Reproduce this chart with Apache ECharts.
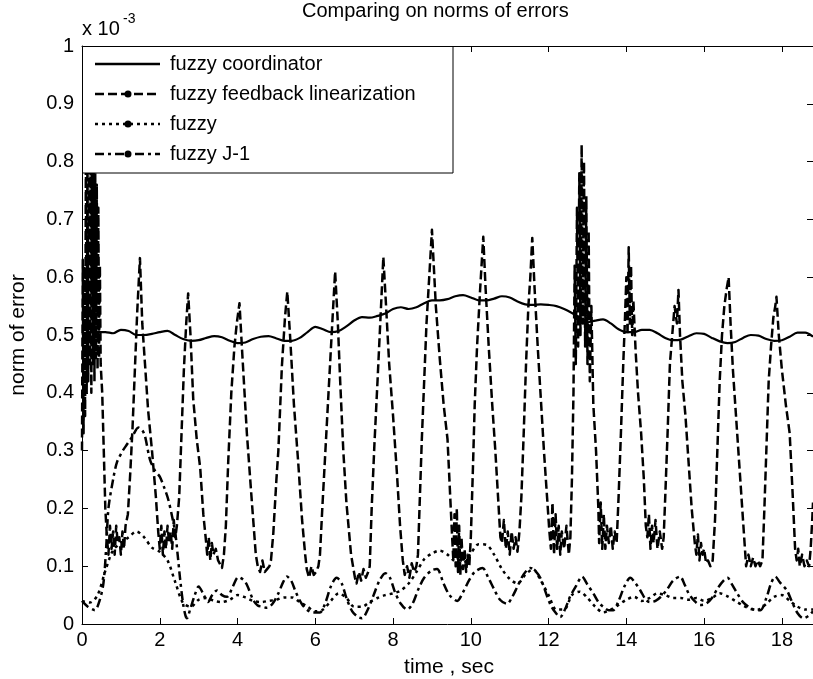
<!DOCTYPE html>
<html>
<head>
<meta charset="utf-8">
<script src="https://cdn.jsdelivr.net/npm/echarts@6/dist/echarts.min.js"></script>
<style>
  html, body { margin: 0; padding: 0; background: #fff; }
  #chart { width: 813px; height: 679px; }
</style>
</head>
<body>
<div id="chart"></div>
<script>
// valores en unidades de 1e-3
const seriesNames = ['fuzzy coordinator', 'fuzzy feedback linearization', 'fuzzy', 'fuzzy J-1'];
const yTickLabels = ['0', '0.1', '0.2', '0.3', '0.4', '0.5', '0.6', '0.7', '0.8', '0.9', '1'];
const xTickLabels = ['0', '2', '4', '6', '8', '10', '12', '14', '16', '18'];

// muestreo cada 0.2 s para las curvas suaves
const sampleStep = 0.2;
const coordinator = [
  0.50, 0.505, 0.505, 0.505, 0.503, 0.509, 0.507, 0.50, 0.50, 0.502,
  0.505, 0.507, 0.50, 0.493, 0.49, 0.491, 0.495, 0.498, 0.496, 0.49,
  0.486, 0.487, 0.493, 0.497, 0.498, 0.494, 0.49, 0.49, 0.495, 0.505,
  0.514, 0.51, 0.505, 0.507, 0.515, 0.525, 0.531, 0.53, 0.533, 0.537,
  0.545, 0.548, 0.545, 0.548, 0.555, 0.56, 0.56, 0.562, 0.567, 0.569,
  0.565, 0.56, 0.56, 0.563, 0.567, 0.565, 0.558, 0.553, 0.552, 0.553,
  0.552, 0.55, 0.545, 0.538, 0.53, 0.522, 0.525, 0.527, 0.52, 0.51,
  0.505, 0.505, 0.509, 0.509, 0.503, 0.495, 0.491, 0.492, 0.498, 0.503,
  0.502, 0.495, 0.489, 0.486, 0.488, 0.495, 0.50, 0.499, 0.493, 0.49,
  0.491, 0.497, 0.504, 0.504, 0.497
];
const fuzzy = [
  0.04, 0.037, 0.05, 0.092, 0.128, 0.14, 0.15, 0.16, 0.15, 0.132,
  0.125, 0.11, 0.072, 0.036, 0.03, 0.042, 0.045, 0.04, 0.038, 0.042,
  0.05, 0.046, 0.04, 0.038, 0.04, 0.042, 0.046, 0.046, 0.038, 0.03,
  0.022, 0.025, 0.04, 0.053, 0.045, 0.03, 0.03, 0.038, 0.045, 0.05,
  0.053, 0.058, 0.07, 0.09, 0.112, 0.122, 0.127, 0.12, 0.108, 0.105,
  0.122, 0.138, 0.137, 0.12, 0.095, 0.078, 0.07, 0.085, 0.095, 0.075,
  0.05, 0.025, 0.025, 0.05, 0.056, 0.045, 0.03, 0.02, 0.025, 0.033,
  0.042, 0.047, 0.04, 0.045, 0.053, 0.05, 0.045, 0.045, 0.042, 0.045,
  0.04, 0.045, 0.053, 0.048, 0.04, 0.032, 0.026, 0.025, 0.035, 0.047,
  0.05, 0.04, 0.03, 0.025, 0.025
];

// [tiempo, valor]
const fuzzyJ1 = [
  [0,0.04],[0.15,0.03],[0.33,0.024],[0.45,0.04],[0.55,0.07],[0.62,0.13],[0.68,0.2],[0.8,0.25],[0.9,0.28],
  [1.05,0.3],[1.15,0.31],[1.3,0.325],[1.45,0.34],[1.55,0.335],[1.62,0.325],[1.75,0.284],[1.88,0.265],
  [2.0,0.255],[2.12,0.235],[2.22,0.215],[2.32,0.185],[2.4,0.157],[2.46,0.12],[2.52,0.08],[2.6,0.035],
  [2.66,0.015],[2.7,0.01],[2.78,0.025],[2.9,0.05],[3.0,0.065],[3.12,0.052],[3.24,0.038],[3.35,0.05],
  [3.47,0.058],[3.6,0.05],[3.73,0.047],[3.88,0.065],[4.02,0.081],[4.14,0.077],[4.24,0.068],[4.4,0.042],
  [4.52,0.032],[4.63,0.03],[4.76,0.028],[4.9,0.035],[5.05,0.053],[5.17,0.072],[5.27,0.082],[5.38,0.075],
  [5.5,0.055],[5.65,0.035],[5.8,0.024],[5.95,0.02],[6.12,0.02],[6.25,0.035],[6.4,0.065],[6.55,0.08],
  [6.68,0.07],[6.8,0.045],[6.95,0.022],[7.1,0.012],[7.2,0.01],[7.35,0.025],[7.5,0.05],[7.65,0.075],
  [7.8,0.088],[7.92,0.08],[8.05,0.055],[8.2,0.035],[8.36,0.025],[8.5,0.035],[8.65,0.06],[8.8,0.08],
  [9.0,0.093],[9.13,0.095],[9.3,0.07],[9.45,0.05],[9.65,0.04],[9.8,0.055],[9.95,0.075],[10.1,0.09],
  [10.3,0.097],[10.45,0.08],[10.6,0.06],[10.75,0.042],[10.93,0.035],[11.05,0.045],[11.2,0.065],
  [11.35,0.085],[11.53,0.097],[11.68,0.09],[11.8,0.078],[11.95,0.05],[12.05,0.033],[12.13,0.024],
  [12.3,0.012],[12.42,0.025],[12.55,0.047],[12.7,0.065],[12.86,0.082],[13.0,0.068],[13.15,0.053],
  [13.28,0.038],[13.4,0.03],[13.55,0.024],[13.66,0.024],[13.8,0.04],[13.95,0.065],[14.1,0.08],
  [14.22,0.072],[14.36,0.058],[14.5,0.042],[14.6,0.038],[14.75,0.04],[14.9,0.048],[15.05,0.06],
  [15.2,0.075],[15.38,0.082],[15.5,0.068],[15.6,0.053],[15.75,0.04],[15.9,0.033],[16.05,0.035],
  [16.2,0.045],[16.35,0.062],[16.5,0.075],[16.6,0.08],[16.72,0.068],[16.85,0.053],[17.0,0.038],
  [17.2,0.027],[17.35,0.024],[17.45,0.024],[17.6,0.045],[17.72,0.07],[17.83,0.082],[17.95,0.072],
  [18.13,0.058],[18.25,0.04],[18.4,0.019],[18.55,0.01],[18.7,0.015],[18.8,0.022]
];

const feedbackLin = [
  // arranque muy oscilante
  [0.00,0.30],[0.02,0.63],[0.04,0.33],[0.06,0.62],[0.08,0.36],[0.10,0.82],[0.12,0.40],[0.14,0.82],
  [0.16,0.42],[0.18,0.82],[0.20,0.45],[0.22,0.82],[0.24,0.40],[0.26,0.82],[0.28,0.45],[0.30,0.80],
  [0.32,0.42],[0.34,0.78],[0.36,0.46],[0.38,0.76],[0.40,0.44],[0.42,0.72],[0.44,0.46],[0.46,0.62],
  [0.48,0.45],[0.52,0.40],[0.56,0.30],[0.60,0.20],[0.64,0.15],
  [0.68,0.12],[0.72,0.17],[0.76,0.13],[0.80,0.16],[0.84,0.12],[0.88,0.17],[0.92,0.14],[0.96,0.15],
  [1.00,0.12],[1.04,0.16],[1.08,0.13],[1.12,0.17],
  [1.18,0.19],[1.24,0.26],[1.30,0.34],[1.36,0.44],[1.42,0.54],[1.49,0.633],[1.55,0.52],[1.62,0.45],
  [1.70,0.37],[1.80,0.30],[1.90,0.22],[1.96,0.16],
  [2.00,0.13],[2.04,0.17],[2.08,0.12],[2.12,0.16],[2.16,0.13],[2.20,0.17],[2.24,0.14],[2.28,0.16],
  [2.32,0.13],[2.36,0.18],[2.40,0.15],[2.44,0.17],
  [2.50,0.22],[2.56,0.33],[2.62,0.44],[2.68,0.52],[2.73,0.572],[2.79,0.50],[2.86,0.39],[2.95,0.32],
  [3.04,0.27],[3.12,0.19],[3.18,0.15],
  [3.22,0.12],[3.26,0.15],[3.30,0.11],[3.34,0.14],[3.38,0.12],[3.44,0.13],[3.50,0.11],[3.55,0.11],
  [3.60,0.097],[3.65,0.12],
  [3.70,0.17],[3.76,0.28],[3.84,0.40],[3.92,0.48],[3.98,0.52],[4.05,0.555],[4.12,0.47],[4.24,0.33],
  [4.37,0.21],[4.47,0.12],
  [4.52,0.10],[4.58,0.09],[4.64,0.11],[4.70,0.09],[4.76,0.095],[4.82,0.10],[4.86,0.11],
  [4.92,0.157],[5.00,0.25],[5.05,0.30],[5.14,0.445],[5.22,0.53],[5.28,0.575],[5.35,0.50],[5.45,0.38],
  [5.56,0.28],[5.66,0.18],[5.74,0.12],
  [5.78,0.095],[5.84,0.08],[5.90,0.10],[5.96,0.085],[6.02,0.09],[6.08,0.10],[6.12,0.12],
  [6.18,0.20],[6.26,0.30],[6.34,0.40],[6.42,0.50],[6.51,0.61],[6.58,0.52],[6.64,0.42],[6.72,0.30],
  [6.80,0.21],[6.92,0.12],[7.02,0.08],
  [7.06,0.07],[7.12,0.09],[7.18,0.075],[7.24,0.095],[7.30,0.08],[7.36,0.09],[7.40,0.10],
  [7.45,0.20],[7.52,0.31],[7.60,0.42],[7.67,0.52],[7.75,0.635],[7.82,0.55],[7.90,0.45],[8.00,0.36],
  [8.10,0.26],[8.18,0.17],[8.25,0.11],
  [8.30,0.085],[8.36,0.10],[8.42,0.08],[8.48,0.105],[8.54,0.09],[8.60,0.10],[8.64,0.12],
  [8.68,0.20],[8.74,0.32],[8.80,0.42],[8.86,0.52],[8.93,0.60],[9.00,0.682],[9.10,0.55],[9.20,0.46],
  [9.30,0.38],[9.40,0.32],[9.47,0.22],[9.52,0.15],
  [9.55,0.11],[9.58,0.19],[9.61,0.10],[9.64,0.20],[9.67,0.09],[9.70,0.17],[9.73,0.085],[9.76,0.15],
  [9.80,0.095],[9.84,0.13],[9.88,0.09],[9.92,0.12],[9.96,0.10],
  [10.00,0.15],[10.05,0.26],[10.10,0.38],[10.16,0.48],[10.24,0.58],[10.32,0.67],[10.38,0.58],
  [10.46,0.48],[10.55,0.38],[10.63,0.30],[10.70,0.22],[10.76,0.15],
  [10.80,0.14],[10.85,0.18],[10.90,0.13],[10.95,0.16],[11.00,0.12],[11.05,0.16],[11.10,0.13],
  [11.15,0.15],[11.20,0.125],[11.25,0.16],
  [11.30,0.22],[11.36,0.33],[11.42,0.45],[11.48,0.55],[11.53,0.60],[11.58,0.668],[11.64,0.58],
  [11.72,0.48],[11.80,0.39],[11.88,0.30],[11.96,0.22],[12.02,0.16],
  [12.06,0.13],[12.10,0.21],[12.14,0.12],[12.18,0.19],[12.22,0.13],[12.26,0.17],[12.30,0.12],
  [12.34,0.16],[12.40,0.13],[12.46,0.17],[12.52,0.12],[12.56,0.15],
  [12.60,0.25],[12.64,0.40],[12.67,0.62],[12.70,0.45],[12.73,0.72],[12.76,0.48],[12.79,0.78],
  [12.82,0.50],[12.85,0.829],[12.88,0.52],[12.91,0.80],[12.94,0.48],[12.97,0.74],[13.00,0.45],
  [13.03,0.68],[13.06,0.42],[13.10,0.55],[13.15,0.38],[13.22,0.30],[13.28,0.20],
  [13.30,0.14],[13.34,0.21],[13.38,0.13],[13.42,0.19],[13.46,0.13],[13.50,0.17],[13.55,0.14],
  [13.60,0.17],[13.65,0.13],[13.70,0.16],[13.75,0.14],
  [13.80,0.22],[13.86,0.33],[13.92,0.45],[13.96,0.52],[14.00,0.60],[14.03,0.50],[14.06,0.652],
  [14.09,0.52],[14.12,0.62],[14.15,0.50],[14.18,0.56],[14.24,0.47],[14.30,0.40],[14.38,0.33],
  [14.45,0.25],[14.50,0.17],
  [14.54,0.15],[14.58,0.19],[14.62,0.13],[14.66,0.17],[14.70,0.14],[14.75,0.18],[14.80,0.13],
  [14.86,0.16],[14.92,0.13],[14.96,0.15],
  [15.00,0.22],[15.06,0.33],[15.12,0.45],[15.18,0.50],[15.24,0.55],[15.30,0.52],[15.34,0.578],
  [15.38,0.50],[15.44,0.42],[15.52,0.36],[15.60,0.28],[15.68,0.20],[15.76,0.14],
  [15.80,0.12],[15.84,0.155],[15.88,0.11],[15.92,0.14],[15.96,0.12],[16.00,0.13],[16.05,0.105],
  [16.10,0.11],[16.16,0.10],[16.22,0.11],
  [16.28,0.18],[16.34,0.30],[16.40,0.42],[16.46,0.50],[16.52,0.55],[16.58,0.58],[16.63,0.60],
  [16.68,0.52],[16.74,0.44],[16.82,0.36],[16.90,0.28],[16.98,0.20],[17.05,0.13],
  [17.08,0.10],[17.14,0.12],[17.20,0.10],[17.26,0.115],[17.32,0.10],[17.38,0.11],[17.44,0.10],
  [17.50,0.11],
  [17.55,0.20],[17.60,0.30],[17.66,0.42],[17.72,0.48],[17.78,0.53],[17.83,0.55],[17.86,0.566],
  [17.92,0.50],[18.00,0.44],[18.10,0.38],[18.20,0.33],[18.28,0.22],[18.34,0.13],
  [18.38,0.11],[18.42,0.13],[18.46,0.10],[18.52,0.12],[18.58,0.10],[18.64,0.11],[18.70,0.10],
  [18.74,0.13],[18.78,0.18],[18.80,0.21]
];

// pares tiempo/valor para las curvas muestreadas
function conTiempo(valores) {
  return valores.map((v, i) => [+(i * sampleStep).toFixed(1), v]);
}

const FONT = '"Liberation Sans", Arial, Helvetica, sans-serif';
const dashTypes = ['solid', [9, 4], [3, 4], [9, 4, 3, 4]];

function ejeX(pos, conEtiquetas) {
  return {
    type: 'value', position: pos, min: 0, max: 18.8, interval: 2,
    axisLine: { show: true, onZero: false, lineStyle: { color: '#000', width: 1 } },
    axisTick: { show: true, inside: true, length: 6, lineStyle: { color: '#000' } },
    axisLabel: {
      show: conEtiquetas, margin: 6, color: '#000', fontFamily: FONT, fontSize: 20,
      showMaxLabel: false,
      formatter: function (v) {
        const i = Math.round(v / 2);
        return Math.abs(v - i * 2) < 1e-6 ? xTickLabels[i] : '';
      }
    },
    splitLine: { show: false }
  };
}

function ejeY(pos, conEtiquetas) {
  return {
    type: 'value', position: pos, min: 0, max: 1, interval: 0.1,
    axisLine: { show: true, onZero: false, lineStyle: { color: '#000', width: 1 } },
    axisTick: { show: true, inside: true, length: 6, lineStyle: { color: '#000' } },
    axisLabel: {
      show: conEtiquetas, margin: 8, color: '#000', fontFamily: FONT, fontSize: 20,
      formatter: function (v) { return yTickLabels[Math.round(v * 10)]; }
    },
    splitLine: { show: false }
  };
}

function serie(nombre, datos, tipo, suave, ancho) {
  return {
    name: nombre, type: 'line', data: datos, xAxisIndex: 0, yAxisIndex: 0,
    showSymbol: false, symbol: 'none', smooth: suave, animation: false, silent: true,
    lineStyle: { color: '#000', width: ancho, type: tipo, cap: 'butt', join: 'round' },
    clip: true
  };
}

// leyenda dibujada a mano (estilo MATLAB)
const filasY = [64, 94, 124, 154];
const leyenda = [{
  type: 'rect', z: 100, shape: { x: 82.5, y: 46.5, width: 370.5, height: 126.5 },
  style: { fill: '#fff', stroke: '#000', lineWidth: 1 }
}];
seriesNames.forEach(function (nombre, i) {
  leyenda.push({
    type: 'line', z: 101, shape: { x1: 95, y1: filasY[i], x2: 160, y2: filasY[i] },
    style: { stroke: '#000', lineWidth: 2.5, lineDash: dashTypes[i] === 'solid' ? null : dashTypes[i] }
  });
  if (i > 0) {
    leyenda.push({ type: 'circle', z: 102, shape: { cx: 128, cy: filasY[i], r: 3.5 }, style: { fill: '#000' } });
  }
  leyenda.push({
    type: 'text', z: 101, x: 170, y: filasY[i],
    style: { text: nombre, fill: '#000', font: '20px ' + FONT, textVerticalAlign: 'middle' }
  });
});

const chart = echarts.init(document.getElementById('chart'), null, { renderer: 'canvas' });
chart.setOption({
  backgroundColor: '#fff',
  animation: false,
  grid: { left: 82, right: 0, top: 46, bottom: 55, containLabel: false },
  xAxis: [ejeX('bottom', true), ejeX('top', false)],
  yAxis: [ejeY('left', true), ejeY('right', false)],
  series: [
    serie(seriesNames[1], feedbackLin, dashTypes[1], false, 2.5),
    serie(seriesNames[2], conTiempo(fuzzy), dashTypes[2], 0.3, 2.5),
    serie(seriesNames[3], fuzzyJ1, dashTypes[3], 0.3, 2.5),
    serie(seriesNames[0], conTiempo(coordinator), dashTypes[0], 0.3, 2.2)
  ],
  graphic: [
    { type: 'group', z: 100, children: leyenda },
    {
      type: 'text', x: 302, y: 11, z: 100,
      style: { text: 'Comparing on norms of errors', fill: '#000', font: '20px ' + FONT, textVerticalAlign: 'middle' }
    },
    {
      type: 'text', x: 82, y: 29, z: 100,
      style: { text: 'x 10', fill: '#000', font: '20px ' + FONT, textVerticalAlign: 'middle' }
    },
    {
      type: 'text', x: 123, y: 19, z: 100,
      style: { text: '-3', fill: '#000', font: '14px ' + FONT, textVerticalAlign: 'middle' }
    },
    {
      type: 'text', x: 449, y: 667, z: 100,
      style: { text: 'time , sec', fill: '#000', font: '21px ' + FONT, textAlign: 'center', textVerticalAlign: 'middle' }
    },
    {
      type: 'text', x: 18, y: 335, rotation: Math.PI / 2, z: 100,
      style: { text: 'norm of error', fill: '#000', font: '21px ' + FONT, textAlign: 'center', textVerticalAlign: 'middle' }
    }
  ]
});
</script>
</body>
</html>
